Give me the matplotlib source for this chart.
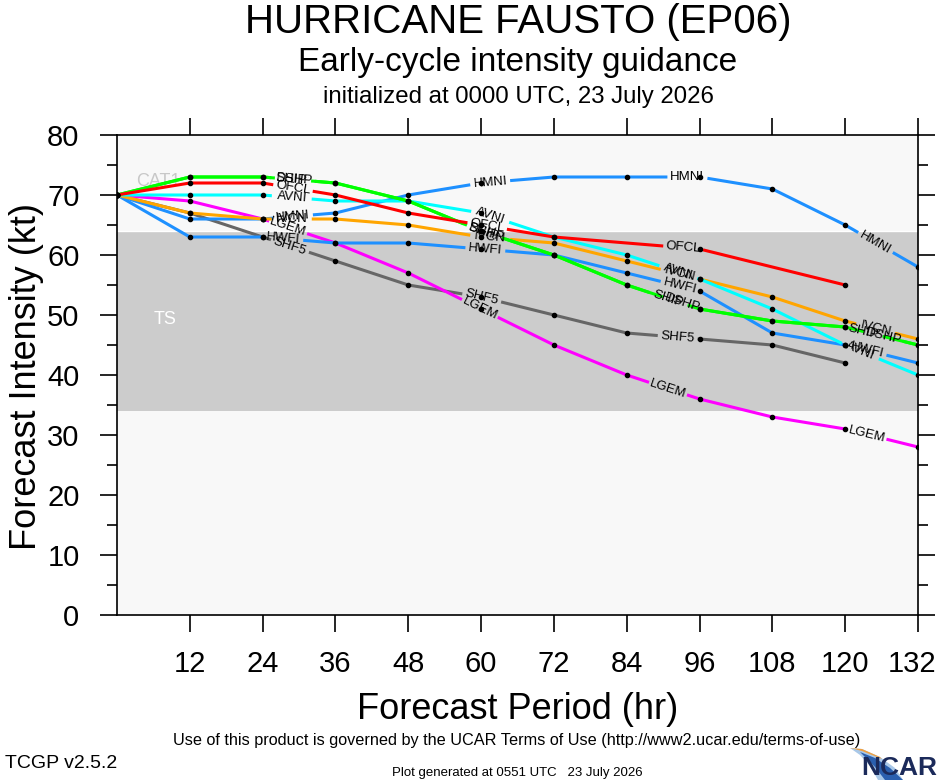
import numpy as np
import matplotlib
matplotlib.use('Agg')
import matplotlib.pyplot as plt
import matplotlib.transforms as mtransforms
from matplotlib.patches import Polygon

plt.rcParams['font.family'] = ['Liberation Sans', 'DejaVu Sans']

# ================== data ==================
hours = [0, 12, 24, 36, 48, 60, 72, 84, 96, 108, 120, 132]
nan = np.nan

ofcl = [70, 72, 72, 70, 67, 65, 63, nan, 61, nan, 55, nan]
ship = [70, 73, 73, 72, 69, 64, 60, 55, 51, 49, 48, 45]
dshp = [70, 73, 73, 72, 69, 64, 60, 55, 51, 49, 48, 45]
avni = [70, 70, 70, 69, 69, 67, 63, 60, 56, 51, 45, 40]
hmni = [70, 66, 66, 67, 70, 72, 73, 73, 73, 71, 65, 58]
hwfi = [70, 63, 63, 62, 62, 61, 60, 57, 54, 47, 45, 42]
ivcn = [70, 67, 66, 66, 65, 63, 62, 59, 56, 53, 49, 46]
lgem = [70, 69, 66, 62, 57, 51, 45, 40, 36, 33, 31, 28]
shf5 = [70, 67, 63, 59, 55, 53, 50, 47, 46, 45, 42, nan]

# model name, values, colour, hours where the line label sits
models = [
    ('SHF5', shf5, '#666666', [28.5, 60.1, 92.4]),
    ('LGEM', lgem, '#ff00ff', [28.2, 59.8, 90.8, 123.6]),
    ('HWFI', hwfi, '#1e90ff', [27.4, 60.7, 92.8, 123.6]),
    ('HMNI', hmni, '#1e90ff', [29.0, 61.5, 94.0, 125.0]),
    ('IVCN', ivcn, '#ffa500', [28.8, 61.5, 92.8, 125.0]),
    ('AVNI', avni, '#00ffff', [28.8, 61.5, 92.5, 122.5]),
    ('DSHP', dshp, '#00ff00', [29.3, 60.8, 93.1, 126.3]),
    ('SHIP', ship, '#00ff00', [28.7, 60.3, 90.9, 123.0]),
    ('OFCL', ofcl, '#ff0000', [29.0, 61.0, 93.3]),
]

band_lo, band_hi = 34, 64
xticks = [12, 24, 36, 48, 60, 72, 84, 96, 108, 120, 132]

# ================== figure ==================
W, H = 940, 780
fig = plt.figure(figsize=(W / 100, H / 100), dpi=100)
ax = fig.add_axes([117 / W, 165 / H, 801 / W, 480 / H])
ax.set_xlim(0, 132)
ax.set_ylim(0, 80)
ax.set_facecolor('#f8f8f8')
ax.axhspan(band_lo, band_hi, color='#cccccc', lw=0, zorder=0.5)
ax.axhline(band_hi, color='white', lw=1.0, zorder=0.6)

ax.text(6.8, 72.2, 'CAT1', color='#c8c8c8', fontsize=13, ha='center', va='center', zorder=0.7)
ax.text(7.9, 49.2, 'TS', color='white', fontsize=13, ha='center', va='center', zorder=0.7)


def to_px(x, y):
    return ax.transData.transform((x, y))


half_gap = 20  # px, half length of the hole cut in a line for its label

for name, vals, col, lab_hours in models:
    v = np.array(vals, dtype=float)
    h = np.array(hours, dtype=float)
    ok = ~np.isnan(v)
    xv, yv = h[ok], v[ok]

    # label angles and gaps
    gaps = []
    labs = []
    for hl in lab_hours:
        i = np.searchsorted(xv, hl) - 1
        i = min(max(i, 0), len(xv) - 2)
        p0 = to_px(xv[i], yv[i])
        p1 = to_px(xv[i + 1], yv[i + 1])
        ang = np.arctan2(p1[1] - p0[1], p1[0] - p0[0])
        dx = half_gap * np.cos(ang) / (to_px(1, 0)[0] - to_px(0, 0)[0])
        lo, hi = max(hl - dx, xv[0]), min(hl + dx, xv[-1])
        gaps.append((lo, hi))
        labs.append((hl, np.interp(hl, xv, yv), np.degrees(ang)))

    edges = [xv[0]]
    for lo, hi in gaps:
        edges += [lo, hi]
    edges.append(xv[-1])
    for a, b in zip(edges[::2], edges[1::2]):
        if b <= a:
            continue
        inner = xv[(xv > a) & (xv < b)]
        xs = np.concatenate([[a], inner, [b]])
        ax.plot(xs, np.interp(xs, xv, yv), color=col, lw=2.2, solid_capstyle='butt', zorder=2)

    for hl, yl, ang in labs:
        ax.text(hl, yl, name, fontsize=9.5, ha='center', va='center', rotation=ang,
                rotation_mode='anchor', color='black', zorder=4)

    ax.plot(xv, yv, 'o', color='black', ms=3, zorder=3)

# ================== axes styling ==================
ax.set_xticks(xticks)
ax.set_yticks(range(0, 81, 10))
ax.set_yticks(range(5, 80, 10), minor=True)
ax.tick_params(axis='both', which='major', direction='out', length=12, width=1.2,
               labelsize=21, top=True, right=True, labeltop=False, labelright=False)
ax.tick_params(axis='x', pad=13)
ax.tick_params(axis='y', pad=15)
ax.tick_params(axis='y', which='minor', direction='out', length=7, width=1.2, right=True)
for s in ax.spines.values():
    s.set_linewidth(1.2)

# keep the last x label inside the picture
last = ax.get_xticklabels()[-1]
last.set_transform(last.get_transform() + mtransforms.ScaledTranslation(-6 / 100, 0, fig.dpi_scale_trans))

ax.set_xlabel('Forecast Period (hr)', fontsize=26, labelpad=10)
fig.text(27 / W, 1 - 377 / H, 'Forecast Intensity (kt)', fontsize=26, rotation=90,
         ha='center', va='center')

# ================== titles & footer ==================
fig.text(518 / W, 1 - 22 / H, 'HURRICANE FAUSTO (EP06)', fontsize=29, ha='center', va='center')
fig.text(518 / W, 1 - 62 / H, 'Early-cycle intensity guidance', fontsize=24, ha='center', va='center')
fig.text(518 / W, 1 - 97 / H, 'initialized at 0000 UTC, 23 July 2026', fontsize=17.3, ha='center', va='center')

fig.text(517 / W, 1 - 741 / H,
         'Use of this product is governed by the UCAR Terms of Use (http://www2.ucar.edu/terms-of-use)',
         fontsize=11.7, ha='center', va='center')
fig.text(5 / W, 1 - 764 / H, 'TCGP v2.5.2', fontsize=14, ha='left', va='center')
fig.text(517 / W, 1 - 773 / H, 'Plot generated at 0551 UTC   23 July 2026', fontsize=9.5,
         ha='center', va='center')

# NCAR logo (rough)
def fpoly(pts, **kw):
    pts = [(x / W, 1 - y / H) for x, y in pts]
    fig.patches.append(Polygon(pts, closed=True, transform=fig.transFigure, **kw))

fpoly([(850, 748), (862, 749), (880, 757), (895, 768), (903, 780), (878, 780), (870, 766), (860, 755)],
      facecolor='#a9c8e8', lw=0)
fpoly([(860, 752), (875, 758), (890, 768), (903, 780), (885, 780), (875, 767)],
      facecolor='#2a5fae', lw=0)
fpoly([(850, 748), (862, 749), (880, 757), (882, 759), (862, 751)], facecolor='#f0a040', lw=0)
fig.text(937 / W, 1 - 768 / H, 'NCAR', fontsize=19, fontweight='bold', color='#1b2a5a',
         ha='right', va='center', family=['Liberation Sans Narrow', 'Liberation Sans'])

fig.savefig('out.png', dpi=100)
